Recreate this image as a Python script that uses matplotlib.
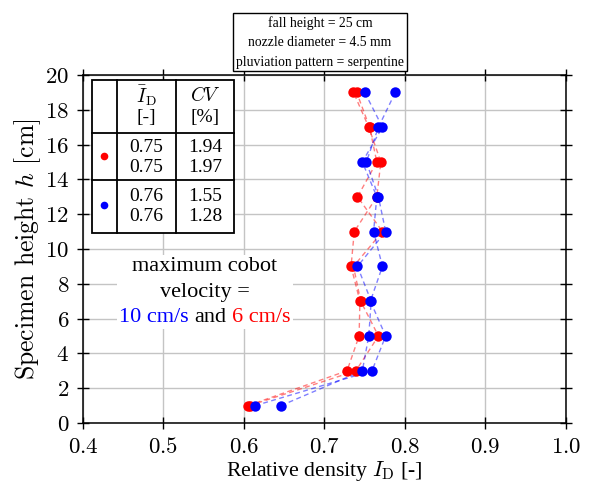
import matplotlib
matplotlib.use('Agg')
import matplotlib.pyplot as plt
from matplotlib.ticker import FuncFormatter, MultipleLocator
from matplotlib.offsetbox import TextArea, HPacker, VPacker, AnnotationBbox
from matplotlib.patches import Rectangle

plt.rcParams['font.family'] = 'Liberation Serif'
plt.rcParams['mathtext.fontset'] = 'cm'

# specimen heights (cm) and relative density per test
heights = [1, 3, 5, 7, 9, 11, 13, 15, 17, 19]
red_a = [0.605, 0.728, 0.743, 0.744, 0.733, 0.737, 0.765, 0.770, 0.755, 0.736]
red_b = [0.607, 0.739, 0.767, 0.745, 0.736, 0.772, 0.741, 0.765, 0.756, 0.740]
blue_a = [0.614, 0.759, 0.776, 0.757, 0.772, 0.761, 0.765, 0.747, 0.772, 0.750]
blue_b = [0.646, 0.747, 0.755, 0.758, 0.741, 0.776, 0.767, 0.752, 0.767, 0.788]

# table contents
red_id = ['0.75', '0.75']
red_cv = ['1.94', '1.97']
blue_id = ['0.76', '0.76']
blue_cv = ['1.55', '1.28']

fig = plt.figure(figsize=(5.91, 4.91), dpi=100)
ax = fig.add_axes([0.1404, 0.1385, 0.8173, 0.7088])

for vals, c in [(red_a, 'red'), (red_b, 'red'), (blue_a, 'blue'), (blue_b, 'blue')]:
    ax.plot(vals, heights, '--', color=c, alpha=0.5, lw=1, dashes=(3.5, 2.5), zorder=3)
for vals, c in [(red_a, 'red'), (red_b, 'red'), (blue_a, 'blue'), (blue_b, 'blue')]:
    ax.plot(vals, heights, 'o', color=c, ms=7.5, mec='none', zorder=4)

ax.set_xlim(0.4, 1.0)
ax.set_ylim(0, 20)
ax.xaxis.set_major_locator(MultipleLocator(0.1))
ax.yaxis.set_major_locator(MultipleLocator(2))
ax.xaxis.set_major_formatter(FuncFormatter(lambda v, p: f'${v:.1f}$'))
ax.yaxis.set_major_formatter(FuncFormatter(lambda v, p: f'${v:.0f}$'))
ax.tick_params(direction='inout', length=8, width=1, top=True, right=True, labelsize=16.5)
ax.tick_params(axis='x', pad=6)
ax.tick_params(axis='y', pad=6)
ax.grid(color='#c4c4c4', lw=1)
ax.set_axisbelow(True)
for s in ax.spines.values():
    s.set_linewidth(1.1)

ax.set_xlabel(r'Relative density $I_\mathrm{D}$ [-]', fontsize=15.7, labelpad=1)
ax.set_ylabel(r'Specimen height $h$ [cm]', fontsize=18.5, fontfamily='cmr10', labelpad=1)

# info box above the axes
ax.text(0.4907, 1.018, 'fall height = 25 cm\nnozzle diameter = 4.5 mm\npluviation pattern = serpentine',
        transform=ax.transAxes, ha='center', va='bottom', fontsize=9.8, linespacing=1.65,
        bbox=dict(boxstyle='square,pad=0.2', fc='white', ec='black', lw=1))

# table in the upper left corner
tx = [0.0186, 0.0704, 0.1925, 0.3126]
ty = [0.546, 0.6983, 0.8333, 0.9856]
ax.add_patch(Rectangle((tx[0], ty[0]), tx[3] - tx[0], ty[3] - ty[0], transform=ax.transAxes,
                       fc='white', ec='black', lw=1.3, zorder=5))
for x in tx[1:3]:
    ax.plot([x, x], [ty[0], ty[3]], color='black', lw=1.3, transform=ax.transAxes, zorder=6)
for y in ty[1:3]:
    ax.plot([tx[0], tx[3]], [y, y], color='black', lw=1.3, transform=ax.transAxes, zorder=6)

c1 = (tx[1] + tx[2]) / 2
c2 = (tx[2] + tx[3]) / 2
kw = dict(transform=ax.transAxes, ha='center', va='center', fontsize=14, zorder=7)
ax.text(c1, 0.940, r'$\bar{I}_\mathrm{D}$', **kw)
ax.text(c1, 0.878, '[-]', **kw)
ax.text(c2, 0.940, r'$CV$', **kw)
ax.text(c2, 0.878, '[%]', **kw)
for i in range(2):
    ax.text(c1, 0.793 - i * 0.058, red_id[i], **kw)
    ax.text(c2, 0.793 - i * 0.058, red_cv[i], **kw)
    ax.text(c1, 0.650 - i * 0.058, blue_id[i], **kw)
    ax.text(c2, 0.650 - i * 0.058, blue_cv[i], **kw)
dx = (tx[0] + tx[1]) / 2
ax.plot([dx], [0.767], 'o', color='red', ms=5.5, mec='none', transform=ax.transAxes, zorder=7)
ax.plot([dx], [0.625], 'o', color='blue', ms=5.5, mec='none', transform=ax.transAxes, zorder=7)

# velocity note
tp = dict(fontsize=16)
line1 = TextArea('maximum cobot', textprops=dict(tp, color='black'))
line2 = TextArea('velocity =', textprops=dict(tp, color='black'))
line3 = HPacker(children=[TextArea('10 cm/s', textprops=dict(tp, color='blue')),
                          TextArea('and', textprops=dict(tp, color='black')),
                          TextArea('6 cm/s', textprops=dict(tp, color='red'))],
                sep=4, align='baseline', pad=0)
box = VPacker(children=[line1, line2, line3], align='center', sep=4.5, pad=0)
ab = AnnotationBbox(box, (0.2526, 0.376), xycoords='axes fraction', frameon=True,
                    bboxprops=dict(fc='white', ec='none'), pad=0.15, zorder=6)
ax.add_artist(ab)

fig.savefig('out.png', dpi=100)
